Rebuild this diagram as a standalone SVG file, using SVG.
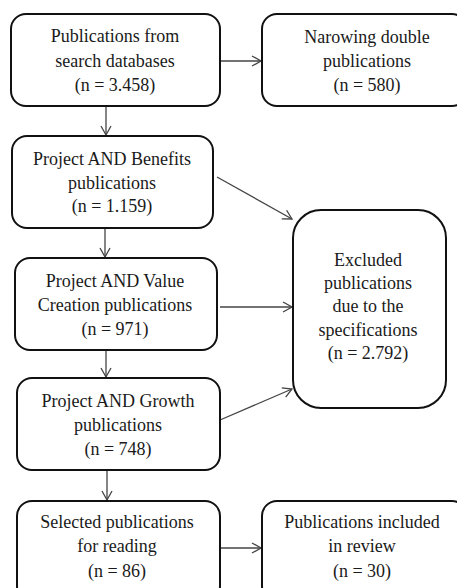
<svg xmlns="http://www.w3.org/2000/svg" width="457" height="588" viewBox="0 0 457 588">
<style>
.box{fill:#fff;stroke:#111;stroke-width:2}
.t{font-family:'Liberation Serif','Times New Roman',serif;font-size:18px;fill:#1a1a1a;text-anchor:middle}
.c{stroke:#444;stroke-width:1.3;fill:none;marker-end:url(#ah)}
</style>
<defs>
<marker id="ah" markerUnits="userSpaceOnUse" markerWidth="12" markerHeight="12" refX="10" refY="6" orient="auto">
<path d="M1,1 L10,6 L1,11" fill="none" stroke="#444" stroke-width="1.3"/>
</marker>
</defs>
<rect width="457" height="588" fill="#fff"/>
<g id="connectors">
<line class="c" x1="220" y1="61" x2="261" y2="61"/>
<line class="c" x1="106" y1="106" x2="106" y2="135"/>
<line class="c" x1="217" y1="177" x2="292" y2="219"/>
<line class="c" x1="105" y1="228" x2="105" y2="257"/>
<line class="c" x1="220" y1="307" x2="292" y2="307"/>
<line class="c" x1="106" y1="350" x2="106" y2="377"/>
<line class="c" x1="220" y1="420" x2="292" y2="389"/>
<line class="c" x1="107" y1="470" x2="107" y2="500"/>
<line class="c" x1="220" y1="548" x2="261" y2="548"/>
</g>
<g id="n1">
<rect class="box" x="11" y="14" width="209" height="92" rx="15"/>
<text class="t" x="115" y="42">Publications from</text>
<text class="t" x="115" y="67">search databases</text>
<text class="t" x="115" y="91">(n = 3.458)</text>
</g>
<g id="n2">
<rect class="box" x="262" y="14" width="205" height="92" rx="15"/>
<text class="t" x="367" y="43">Narowing double</text>
<text class="t" x="367" y="67">publications</text>
<text class="t" x="367" y="91">(n = 580)</text>
</g>
<g id="n3">
<rect class="box" x="12" y="136" width="201" height="92" rx="15"/>
<text class="t" x="112" y="165">Project AND Benefits</text>
<text class="t" x="112" y="189">publications</text>
<text class="t" x="112" y="212">(n = 1.159)</text>
</g>
<g id="n4">
<rect class="box" x="15" y="258" width="202" height="92" rx="15"/>
<text class="t" x="115" y="287">Project AND Value</text>
<text class="t" x="115" y="311">Creation publications</text>
<text class="t" x="115" y="335">(n = 971)</text>
</g>
<g id="n5">
<rect class="box" x="293" y="210" width="153" height="198" rx="28"/>
<text class="t" x="368" y="266">Excluded</text>
<text class="t" x="368" y="289">publications</text>
<text class="t" x="368" y="312">due to the</text>
<text class="t" x="368" y="336">specifications</text>
<text class="t" x="368" y="359">(n = 2.792)</text>
</g>
<g id="n6">
<rect class="box" x="17" y="378" width="203" height="92" rx="15"/>
<text class="t" x="118" y="407">Project AND Growth</text>
<text class="t" x="118" y="431">publications</text>
<text class="t" x="118" y="455">(n = 748)</text>
</g>
<g id="n7">
<rect class="box" x="17" y="501" width="203" height="100" rx="15"/>
<text class="t" x="117" y="528">Selected publications</text>
<text class="t" x="117" y="552">for reading</text>
<text class="t" x="117" y="577">(n = 86)</text>
</g>
<g id="n8">
<rect class="box" x="262" y="501" width="205" height="100" rx="15"/>
<text class="t" x="362" y="528">Publications included</text>
<text class="t" x="362" y="552">in review</text>
<text class="t" x="362" y="577">(n = 30)</text>
</g>
</svg>
